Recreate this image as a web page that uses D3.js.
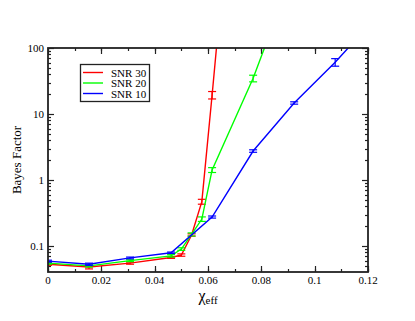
<!DOCTYPE html>
<html>
<head>
<meta charset="utf-8">
<script src="https://cdn.jsdelivr.net/npm/d3@7"></script>
<style>
  body { margin: 0; background: #fff; }
  svg { display: block; font-family: "Liberation Serif", "DejaVu Serif", serif; }
</style>
</head>
<body>
<svg id="chart" width="415" height="321"></svg>
<script>
// chart data
var xTicks = [0, 0.02, 0.04, 0.06, 0.08, 0.1, 0.12];
var yTicks = [0.1, 1, 10, 100];

var snr30X = [0, 0.01538, 0.03077, 0.04615, 0.05, 0.05385, 0.05769, 0.06154, 0.07692];
var snr30Y = [0.053, 0.048, 0.055, 0.067, 0.073, 0.147, 0.47, 19.4, 1e8];
var snr30E = [0.002, 0.003, 0.002, 0.002, 0.003, 0.006, 0.04, 2.5, 0];

var snr20X = [0, 0.01538, 0.03077, 0.04615, 0.05, 0.05385, 0.05769, 0.06154, 0.07692, 0.09231];
var snr20Y = [0.055, 0.050, 0.060, 0.071, 0.090, 0.15, 0.256, 1.42, 34.7, 1600];
var snr20E = [0.002, 0.002, 0.002, 0.003, 0.004, 0.008, 0.02, 0.12, 4, 0];

var snr10X = [0, 0.01538, 0.03077, 0.04615, 0.06154, 0.07692, 0.09231, 0.10769, 0.12308];
var snr10Y = [0.059, 0.053, 0.066, 0.079, 0.275, 2.75, 14.7, 61, 290];
var snr10E = [0.002, 0.002, 0.002, 0.002, 0.01, 0.12, 0.6, 8, 0];

var seriesNames = ['SNR 30', 'SNR 20', 'SNR 10'];
var seriesColors = ['#ff0000', '#00ff00', '#0000ff'];

var series = [
  {name: seriesNames[0], color: seriesColors[0], xs: snr30X, ys: snr30Y, es: snr30E},
  {name: seriesNames[1], color: seriesColors[1], xs: snr20X, ys: snr20Y, es: snr20E},
  {name: seriesNames[2], color: seriesColors[2], xs: snr10X, ys: snr10Y, es: snr10E}
];

var svg = d3.select('#chart');
var pLeft = 48, pRight = 368, pTop = 48, pBottom = 272;

var x = d3.scaleLinear().domain([0, 0.12]).range([pLeft, pRight]);
var y = d3.scaleLog().domain([0.0404, 100]).range([pBottom, pTop]);

svg.append('clipPath').attr('id', 'plotclip')
  .append('rect').attr('x', pLeft).attr('y', pTop)
  .attr('width', pRight - pLeft).attr('height', pBottom - pTop);

// minor ticks
var xMinor = d3.range(0, 0.1201, 0.01);
var yMinor = [];
[0.01, 0.1, 1, 10].forEach(function(d) {
  for (var k = 2; k <= 9; k++) {
    var v = d * k;
    if (v >= y.domain()[0] && v <= 100) yMinor.push(v);
  }
});

var axes = svg.append('g').attr('stroke', '#222').attr('stroke-width', 1.2);
xMinor.forEach(function(v) {
  var px = Math.round(x(v)) + 0.5;
  axes.append('line').attr('x1', px).attr('x2', px).attr('y1', pBottom).attr('y2', pBottom - 3);
  axes.append('line').attr('x1', px).attr('x2', px).attr('y1', pTop).attr('y2', pTop + 3);
});
xTicks.forEach(function(v) {
  var px = Math.round(x(v)) + 0.5;
  axes.append('line').attr('x1', px).attr('x2', px).attr('y1', pBottom).attr('y2', pBottom - 6);
  axes.append('line').attr('x1', px).attr('x2', px).attr('y1', pTop).attr('y2', pTop + 6);
});
yMinor.forEach(function(v) {
  var py = Math.round(y(v)) + 0.5;
  axes.append('line').attr('x1', pLeft).attr('x2', pLeft + 3).attr('y1', py).attr('y2', py);
  axes.append('line').attr('x1', pRight).attr('x2', pRight - 3).attr('y1', py).attr('y2', py);
});
yTicks.forEach(function(v) {
  var py = Math.round(y(v)) + 0.5;
  axes.append('line').attr('x1', pLeft).attr('x2', pLeft + 6).attr('y1', py).attr('y2', py);
  axes.append('line').attr('x1', pRight).attr('x2', pRight - 6).attr('y1', py).attr('y2', py);
});

// data
var plot = svg.append('g').attr('clip-path', 'url(#plotclip)');
series.forEach(function(s) {
  var pts = s.xs.map(function(v, i) { return {x: v, y: s.ys[i], e: s.es[i]}; });
  plot.append('path')
    .datum(pts)
    .attr('fill', 'none')
    .attr('stroke', s.color)
    .attr('stroke-width', 1.4)
    .attr('d', d3.line().x(function(d) { return x(d.x); }).y(function(d) { return y(d.y); }));
  var eb = plot.append('g').attr('stroke', s.color).attr('stroke-width', 1.2);
  pts.forEach(function(d) {
    if (!d.e) return;
    var px = x(d.x), y1 = y(d.y + d.e), y0 = y(Math.max(d.y - d.e, 1e-6));
    eb.append('line').attr('x1', px).attr('x2', px).attr('y1', y0).attr('y2', y1);
    eb.append('line').attr('x1', px - 4).attr('x2', px + 4).attr('y1', y0).attr('y2', y0);
    eb.append('line').attr('x1', px - 4).attr('x2', px + 4).attr('y1', y1).attr('y2', y1);
  });
});

// frame
svg.append('rect').attr('x', pLeft).attr('y', pTop)
  .attr('width', pRight - pLeft).attr('height', pBottom - pTop)
  .attr('fill', 'none').attr('stroke', '#222').attr('stroke-width', 1.8);

// tick labels
svg.append('g').selectAll('text').data(xTicks).enter().append('text')
  .attr('x', function(d) { return x(d); })
  .attr('y', 284)
  .attr('text-anchor', 'middle')
  .attr('font-size', 11)
  .text(function(d) { return d === 0 ? '0' : String(d); });

svg.append('g').selectAll('text').data(yTicks).enter().append('text')
  .attr('x', 44)
  .attr('y', function(d) { return y(d) + 4; })
  .attr('text-anchor', 'end')
  .attr('font-size', 11)
  .text(function(d) { return String(d); });

// axis titles
svg.append('text')
  .attr('transform', 'translate(21,160) rotate(-90)')
  .attr('text-anchor', 'middle')
  .attr('font-size', 13)
  .text('Bayes Factor');

var xl = svg.append('text').attr('x', 208).attr('y', 301).attr('text-anchor', 'middle');
xl.append('tspan').attr('font-size', 16).text('χ');
xl.append('tspan').attr('font-size', 11).attr('dy', 3).text('eff');

// legend
var lg = svg.append('g');
lg.append('rect').attr('x', 80.5).attr('y', 64.5).attr('width', 69).attr('height', 37)
  .attr('fill', '#fff').attr('stroke', '#222').attr('stroke-width', 1.3);
series.forEach(function(s, i) {
  var ly = 72.5 + i * 10.5;
  lg.append('line').attr('x1', 83).attr('x2', 103).attr('y1', ly).attr('y2', ly)
    .attr('stroke', s.color).attr('stroke-width', 1.4);
  lg.append('text').attr('x', 111).attr('y', ly + 4).attr('font-size', 11).text(s.name);
});
</script>
</body>
</html>
